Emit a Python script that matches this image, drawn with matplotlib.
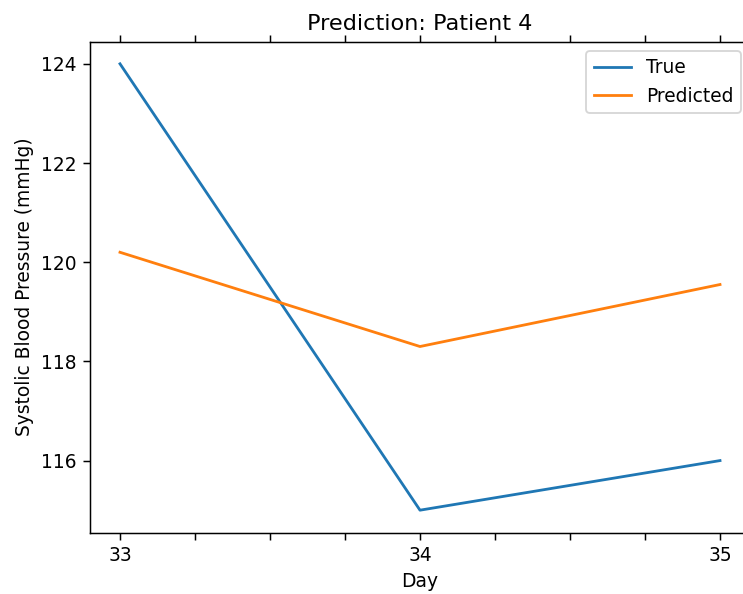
import numpy as np
import matplotlib.pyplot as plt

days = [33, 34, 35]
true_bp = [124, 115, 116]
pred_bp = [120.2, 118.3, 119.55]

DPI = 134
fig = plt.figure(figsize=(743 / DPI, 594 / DPI), dpi=DPI)
# the right edge of the axes sits just past the image edge, as in the source
ax = fig.add_axes([90 / 743, 61.5 / 594, 660 / 743, 491 / 594])

ax.plot(days, true_bp, label='True')
ax.plot(days, pred_bp, label='Predicted')

ticks = np.arange(33, 35.01, 0.25)
ax.set_xticks(ticks)
ax.set_xticklabels([str(int(t)) if t == int(t) else '' for t in ticks])
ax.tick_params(axis='x', top=True)

ax.set_xlabel('Day')
ax.set_ylabel('Systolic Blood Pressure (mmHg)')
ax.set_title('Prediction: Patient 4')
ax.legend(loc='upper right')

fig.savefig('out.png', dpi=DPI)
